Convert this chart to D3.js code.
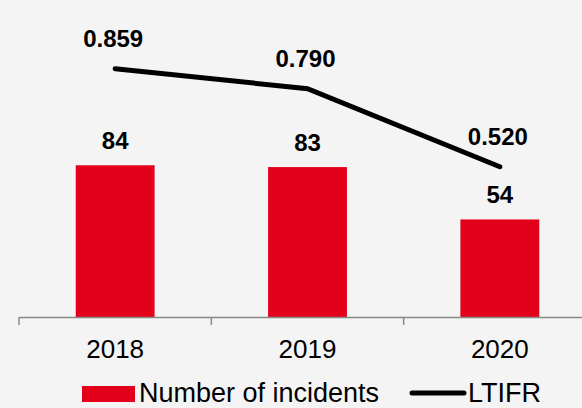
<!DOCTYPE html>
<html>
<head>
<meta charset="utf-8">
<script src="https://cdn.jsdelivr.net/npm/d3@7"></script>
<style>
  body { margin: 0; background: #f4f4f4; }
  svg { display: block; font-family: "Liberation Sans", Arial, sans-serif; }
</style>
</head>
<body>
<svg width="582" height="408"></svg>
<script>
const years = ['2018', '2019', '2020'];
const incidents = [84, 83, 54];
const ltifr = [0.859, 0.790, 0.520];
const incidentLabels = ['84', '83', '54'];
const ltifrLabels = ['0.859', '0.790', '0.520'];

const red = '#e2001a';
const svg = d3.select('svg');

const margin = { left: 19, right: -14, top: 28, bottom: 91 };
const width = 582 - margin.left - margin.right;
const baseY = 408 - margin.bottom;

const x = d3.scaleBand().domain(years).range([margin.left, margin.left + width]).paddingInner(0.59).paddingOuter(0.295);
const xTicks = d3.scaleBand().domain(years).range([margin.left, margin.left + width]);
const yBar = d3.scaleLinear().domain([0, 160]).range([baseY, margin.top]);
const yLine = d3.scaleLinear().domain([0, 1]).range([baseY, margin.top]);

// bars
svg.selectAll('.bar')
  .data(incidents)
  .enter()
  .append('rect')
  .attr('class', 'bar')
  .attr('x', (d, i) => x(years[i]))
  .attr('y', d => yBar(d))
  .attr('width', x.bandwidth())
  .attr('height', d => baseY - yBar(d))
  .style('fill', red);

// axis
const axisG = svg.append('g')
  .attr('transform', `translate(0, ${baseY})`)
  .call(d3.axisBottom(xTicks).tickSize(0).tickFormat(d => d));
axisG.select('.domain').attr('stroke', '#888').attr('stroke-width', 1.5);
axisG.selectAll('text')
  .attr('dy', 0)
  .attr('y', 41)
  .style('font-size', '26px')
  .style('fill', '#000');

svg.append('g').selectAll('line')
  .data(years)
  .enter()
  .append('line')
  .attr('x1', d => xTicks(d))
  .attr('x2', d => xTicks(d))
  .attr('y1', baseY)
  .attr('y2', baseY + 8)
  .attr('stroke', '#888')
  .attr('stroke-width', 1.5);

// bar labels
svg.selectAll('.blabel')
  .data(incidents)
  .enter()
  .append('text')
  .attr('x', (d, i) => x(years[i]) + x.bandwidth() / 2)
  .attr('y', d => yBar(d) - 16)
  .attr('text-anchor', 'middle')
  .style('font-size', '24px')
  .style('font-weight', 'bold')
  .text((d, i) => incidentLabels[i]);

// line
const line = d3.line()
  .x((d, i) => x(years[i]) + x.bandwidth() / 2)
  .y(d => yLine(d));
svg.append('path')
  .datum(ltifr)
  .attr('d', line)
  .attr('fill', 'none')
  .attr('stroke', '#000')
  .attr('stroke-width', 5)
  .attr('stroke-linecap', 'round');

svg.selectAll('.llabel')
  .data(ltifr)
  .enter()
  .append('text')
  .attr('x', (d, i) => x(years[i]) + x.bandwidth() / 2 - 2)
  .attr('y', d => yLine(d) - 22)
  .attr('text-anchor', 'middle')
  .style('font-size', '24px')
  .style('font-weight', 'bold')
  .text((d, i) => ltifrLabels[i]);

// legend
const legend = svg.append('g');
legend.append('rect')
  .attr('x', 82).attr('y', 386).attr('width', 53).attr('height', 16)
  .style('fill', red);
legend.append('text')
  .attr('x', 139).attr('y', 402)
  .style('font-size', '27px')
  .text('Number of incidents');
legend.append('line')
  .attr('x1', 412).attr('x2', 464).attr('y1', 393).attr('y2', 393)
  .attr('stroke', '#000').attr('stroke-width', 5).attr('stroke-linecap', 'round');
legend.append('text')
  .attr('x', 468).attr('y', 402)
  .style('font-size', '27px')
  .text('LTIFR');
</script>
</body>
</html>
